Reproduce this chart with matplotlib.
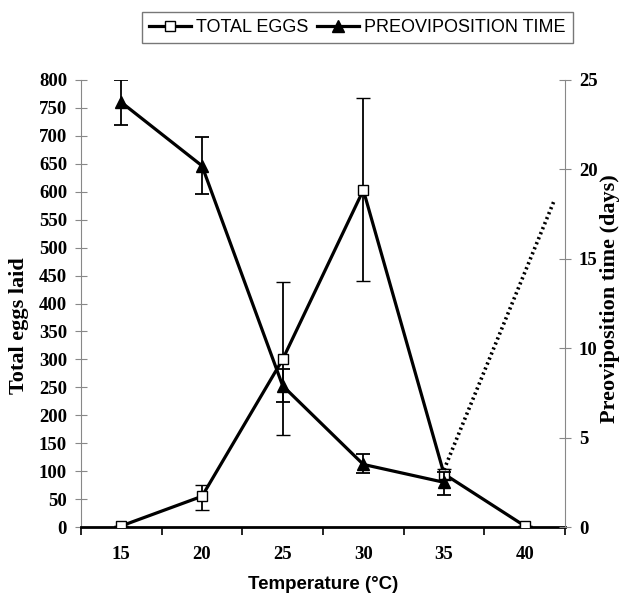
import matplotlib
matplotlib.use("Agg")
import matplotlib.pyplot as plt
from matplotlib.lines import Line2D

temps = ["15", "20", "25", "30", "35", "40"]
eggs = [2, 55, 300, 603, 95, 2]
eggs_err_low = [0, 25, 135, 163, 10, 0]
eggs_err_high = [0, 20, 138, 164, 8, 0]
preov = [23.75, 20.2, 7.9, 3.5, 2.5]
preov_err_low = [1.25, 1.6, 0.9, 0.5, 0.7]
preov_err_high = [1.25, 1.6, 0.95, 0.6, 0.6]
# dotted extension (x in category index units, y in days)
dot_x = [4.0, 5.37]
dot_y = [3.2, 18.3]

serif = "Liberation Serif"
sans = "Liberation Sans"

fig = plt.figure(figsize=(6.25, 6.01), dpi=100)
ax = fig.add_axes([0.1296, 0.1231, 0.7744, 0.7438])
ax2 = ax.twinx()

x = list(range(len(temps)))
ax.errorbar(x, eggs, yerr=[eggs_err_low, eggs_err_high], color="black",
            lw=2.3, marker="s", ms=7, mfc="white", mec="black", mew=1.0,
            ecolor="black", elinewidth=1.3, capsize=5, capthick=1.3, zorder=3)
ax2.errorbar(x[:5], preov, yerr=[preov_err_low, preov_err_high], color="black",
             lw=2.3, marker="^", ms=9, mfc="black", mec="black",
             ecolor="black", elinewidth=1.3, capsize=5, capthick=1.3, zorder=3)
ax2.plot(dot_x, dot_y, color="black", lw=2.6, ls=(0, (0.6, 0.9)), zorder=2)

ax.set_xlim(-0.5, 5.5)
ax.set_ylim(0, 800)
ax2.set_ylim(0, 25)
ax.set_yticks(range(0, 801, 50))
ax2.set_yticks(range(0, 26, 5))

ax.set_xticks([i - 0.5 for i in range(7)])
ax.set_xticklabels([])
ax.set_xticks(x, minor=True)
ax.set_xticklabels(temps, minor=True, fontfamily=serif, fontweight="bold", fontsize=13.5)
ax.tick_params(axis="x", which="major", direction="out", length=6, width=1.2, color="black")
ax.tick_params(axis="x", which="minor", length=0, pad=14)

for a in (ax, ax2):
    a.spines["top"].set_visible(False)
ax.spines["bottom"].set_linewidth(2.0)
ax.spines["bottom"].set_color("black")
ax2.spines["bottom"].set_visible(False)
ax.spines["right"].set_visible(False)
ax2.spines["left"].set_visible(False)
ax.spines["left"].set_color("#888888")
ax2.spines["right"].set_color("#888888")
ax.tick_params(axis="y", direction="inout", length=8, width=0.8, color="#888888", pad=6)
ax2.tick_params(axis="y", direction="inout", length=8, width=0.8, color="#888888", pad=6)
for lab in ax.get_yticklabels() + ax2.get_yticklabels():
    lab.set_fontfamily(serif)
    lab.set_fontweight("bold")
    lab.set_fontsize(13.5)

ax.set_ylabel("Total eggs laid", fontfamily=serif, fontweight="bold", fontsize=16)
ax.yaxis.set_label_coords(-0.108, 0.45)
ax2.set_ylabel("Preoviposition time (days)", fontfamily=serif, fontweight="bold", fontsize=16)
ax2.yaxis.set_label_coords(1.072, 0.51)
ax.set_xlabel("Temperature (°C)", fontfamily=sans, fontweight="bold", fontsize=13.5, labelpad=9)

handles = [
    Line2D([], [], color="black", lw=2.3, marker="s", ms=7, mfc="white", mec="black"),
    Line2D([], [], color="black", lw=2.3, marker="^", ms=9, mfc="black", mec="black"),
]
leg = fig.legend(handles, ["TOTAL EGGS", "PREOVIPOSITION TIME"], loc="upper center",
                 bbox_to_anchor=(0.572, 0.995), ncol=2, frameon=True, fancybox=False,
                 edgecolor="#555555", handlelength=2.3, columnspacing=0.5, handletextpad=0.3,
                 prop={"family": sans, "size": 13}, borderpad=0.4)
leg.get_frame().set_linewidth(1.0)

fig.savefig("out.png", dpi=100)
